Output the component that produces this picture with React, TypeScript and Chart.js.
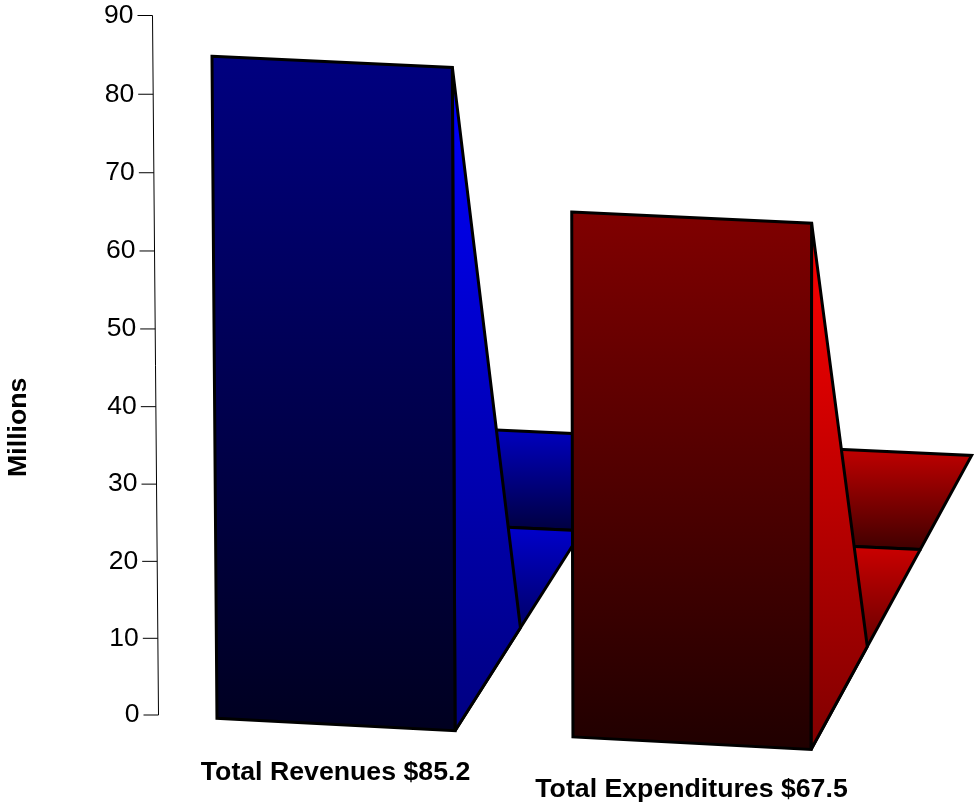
import React, { useEffect, useRef } from "react";
import { Chart, registerables } from "chart.js";

Chart.register(...registerables);

const categories = ["Total Revenues $85.2", "Total Expenditures $67.5"];
const values = [85.2, 67.5];
const yMax = 90;
const yStep = 10;

const FONT = "'Liberation Sans', Arial, sans-serif";

// per-bar face shading as rgb builders
const hue = [
  (n: number) => `rgb(0,0,${n})`,
  (n: number) => `rgb(${n},0,0)`,
];

// pseudo-3D projection constants
const AXIS_LEAN = -6 / 699.5;
const BASE_SKEW = 0.0525;
const TOP_SKEW = 0.047;
const BACK_SKEW = 0.046;
const DEPTH_SIDE = 103;
const DEPTH_WALL_BOTTOM = 200;
const DEPTH_WALL_TOP = 294;
const ORIGIN_X = 155;

const lean = (x: number) => -0.0075 + 0.0000145 * (x - 217);
const floorSlope = (x: number) => 0.635 - 0.000249 * (x - 454.5);
// slight perspective bow of the value axis, in pixels
const bow = (v: number) => 0.00128 * v * (yMax - v);

function poly(ctx: CanvasRenderingContext2D, pts: number[][], fill: CanvasGradient | string) {
  ctx.beginPath();
  pts.forEach((p, i) => (i ? ctx.lineTo(p[0], p[1]) : ctx.moveTo(p[0], p[1])));
  ctx.closePath();
  ctx.fillStyle = fill;
  ctx.fill();
  ctx.stroke();
}

function grad(ctx: CanvasRenderingContext2D, y0: number, y1: number, c0: string, c1: string) {
  const g = ctx.createLinearGradient(0, y0, 0, y1);
  g.addColorStop(0, c0);
  g.addColorStop(1, c1);
  return g;
}

const bars3d = {
  id: "bars3d",
  afterLayout(chart: any) {
    const y = chart.scales.y;
    const x = chart.scales.x;
    y.getLabelItems().forEach((it: any, i: number) => {
      const ty = it.options.translation[1];
      it.options.translation = [
        it.options.translation[0] + AXIS_LEAN * (y.bottom - ty),
        ty + bow(y.ticks[i].value),
      ];
    });
    const xItems = x.getLabelItems();
    if (xItems[1]) {
      const t = xItems[1].options.translation;
      xItems[1].options.translation = [t[0], t[1] + 17];
    }
    const drawTitle = y.drawTitle;
    y.drawTitle = function () {
      const c = chart.ctx;
      c.save();
      c.translate(0, 62);
      drawTitle.call(this);
      c.restore();
    };
  },
  beforeDatasetsDraw(chart: any) {
    const ctx: CanvasRenderingContext2D = chart.ctx;
    const yS = chart.scales.y;
    ctx.save();

    // slanted value axis with tick marks
    ctx.lineWidth = 1;
    ctx.strokeStyle = "#000";
    const axisX = (py: number) => chart.chartArea.left + 1 + AXIS_LEAN * (yS.bottom - py);
    ctx.beginPath();
    ctx.moveTo(axisX(yS.top), yS.top);
    ctx.lineTo(axisX(yS.bottom), yS.bottom);
    yS.ticks.forEach((t: any) => {
      const py = yS.getPixelForValue(t.value) + bow(t.value);
      ctx.moveTo(axisX(py) - 15, py);
      ctx.lineTo(axisX(py), py);
    });
    ctx.stroke();

    // bars
    ctx.lineWidth = 3;
    ctx.miterLimit = 6;
    const meta = chart.getDatasetMeta(0);
    meta.data.forEach((el: any, i: number) => {
      const v = values[i];
      const c = hue[i];
      const cx = el.x + 0.5;
      const hw = (el.width / 2) * 0.992;
      const x0 = cx - hw;
      const x1 = cx + hw;
      const yBase = yS.getPixelForValue(0);
      const yTop = yS.getPixelForValue(v) + bow(v);
      const h = yBase - yTop;

      const BL = [x0, yBase + BASE_SKEW * (x0 - ORIGIN_X)];
      const BR = [x1, yBase + BASE_SKEW * (x1 - ORIGIN_X)];
      const TL = [x0 + lean(x0) * h, yTop + TOP_SKEW * (x0 - ORIGIN_X)];
      const TR = [x1 + lean(x1) * h, yTop + TOP_SKEW * (x1 - ORIGIN_X)];

      const s = floorSlope(BR[0]);
      const atDepth = (d: number) => [BR[0] + s * d, BR[1] - d];
      const sideBack = atDepth(DEPTH_SIDE);
      const wb = atDepth(DEPTH_WALL_BOTTOM);
      const wt = atDepth(DEPTH_WALL_TOP);
      const hiddenX = sideBack[0] - 35;
      const wbL = [hiddenX, wb[1] - BACK_SKEW * (wb[0] - hiddenX)];
      const wtL = [hiddenX, wt[1] - BACK_SKEW * (wt[0] - hiddenX)];

      ctx.lineJoin = "miter";
      poly(ctx, [wtL, wt, wb, wbL], grad(ctx, wtL[1], wb[1], c(192), c(64)));
      ctx.lineJoin = "bevel";
      poly(ctx, [wbL, wb, BR], grad(ctx, wb[1], BR[1], c(200), c(0)));
      poly(ctx, [TR, sideBack, BR], grad(ctx, TR[1], BR[1], c(255), c(128)));
      ctx.lineJoin = "miter";
      poly(ctx, [TL, TR, BR, BL], grad(ctx, TL[1], BR[1], c(128), c(32)));
    });
    ctx.restore();
    return false;
  },
};

export default function App() {
  const ref = useRef<HTMLCanvasElement>(null);
  useEffect(() => {
    const chart = new Chart(ref.current as HTMLCanvasElement, {
      type: "bar",
      data: {
        labels: categories,
        datasets: [
          {
            label: "Millions",
            data: values,
            backgroundColor: ["#000080", "#800000"],
            categoryPercentage: 1,
            barPercentage: 240 / 356,
          },
        ],
      },
      options: {
        animation: false,
        responsive: false,
        devicePixelRatio: 1,
        layout: { padding: { top: 0, right: 108.5, bottom: 0, left: 0 } },
        plugins: { legend: { display: false }, tooltip: { enabled: false } },
        scales: {
          x: {
            grid: { display: false, drawTicks: false },
            border: { display: false },
            afterFit: (s: any) => {
              s.height = 93;
              s.paddingLeft = 0;
              s.paddingRight = 0;
            },
            ticks: {
              color: "#000",
              padding: 42,
              maxRotation: 0,
              autoSkip: false,
              font: { family: FONT, size: 26.7, weight: "bold" },
            },
          },
          y: {
            min: 0,
            max: yMax,
            grid: { display: false, drawTicks: false },
            border: { display: false },
            afterFit: (s: any) => {
              s.width = 157.5;
              s.paddingTop = 15.5;
              s.paddingBottom = 0;
            },
            title: {
              display: true,
              text: "Millions",
              color: "#000",
              padding: { top: 3, bottom: 0 },
              font: { family: FONT, size: 26.7, weight: "bold" },
            },
            ticks: {
              color: "#000",
              stepSize: yStep,
              padding: 18,
              font: { family: FONT, size: 26.5 },
            },
          },
        },
      },
      plugins: [bars3d],
    } as any);
    return () => chart.destroy();
  }, []);
  return (
    <div style={{ position: "absolute", left: 0, top: 0 }}>
      <canvas ref={ref} width={978} height={808} style={{ display: "block" }} />
    </div>
  );
}
